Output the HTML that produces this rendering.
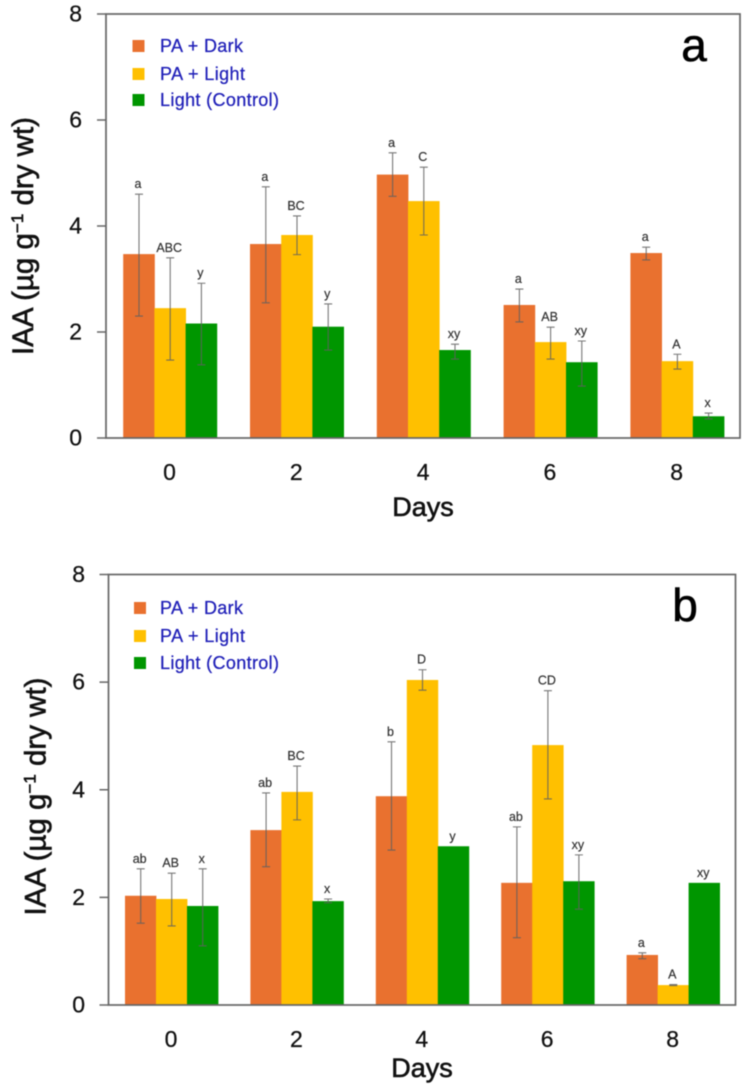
<!DOCTYPE html>
<html lang="en">
<head>
<meta charset="utf-8">
<title>IAA content over days</title>
<style>
html,body{margin:0;padding:0;background:#fff;width:750px;height:1088px;overflow:hidden}
svg{display:block;filter:blur(.45px)}
text{font-family:"Liberation Sans",sans-serif}
</style>
</head>
<body>
<svg id="figure" xmlns="http://www.w3.org/2000/svg" width="750" height="1088" viewBox="0 0 750 1088"></svg>
<script>
// Shared categories and ticks
const categories = ['0', '2', '4', '6', '8'];
const yTicks = [0, 2, 4, 6, 8];
const seriesNames = ['PA + Dark', 'PA + Light', 'Light (Control)'];

// Panel a values
const aDark = [3.47, 3.66, 4.97, 2.51, 3.49];
const aDarkUp = [1.13, 1.08, 0.41, 0.30, 0.11];
const aDarkDown = [1.17, 1.11, 0.41, 0.32, 0.13];
const aDarkLetters = ['a', 'a', 'a', 'a', 'a'];
const aLight = [2.45, 3.83, 4.47, 1.81, 1.45];
const aLightUp = [0.95, 0.36, 0.64, 0.28, 0.13];
const aLightDown = [0.98, 0.37, 0.64, 0.32, 0.15];
const aLightLetters = ['ABC', 'BC', 'C', 'AB', 'A'];
const aControl = [2.16, 2.10, 1.66, 1.43, 0.41];
const aControlUp = [0.76, 0.43, 0.11, 0.40, 0.06];
const aControlDown = [0.78, 0.44, 0.17, 0.45, 0.05];
const aControlLetters = ['y', 'y', 'xy', 'xy', 'x'];

// Panel b values
const bDark = [2.03, 3.25, 3.88, 2.27, 0.93];
const bDarkUp = [0.50, 0.69, 1.01, 1.04, 0.04];
const bDarkDown = [0.51, 0.68, 1.00, 1.02, 0.07];
const bDarkLetters = ['ab', 'ab', 'b', 'ab', 'a'];
const bLight = [1.97, 3.96, 6.04, 4.83, 0.37];
const bLightUp = [0.48, 0.48, 0.19, 1.01, 0.01];
const bLightDown = [0.50, 0.52, 0.19, 1.00, 0.01];
const bLightLetters = ['AB', 'BC', 'D', 'CD', 'A'];
const bControl = [1.84, 1.93, 2.95, 2.30, 2.27];
const bControlUp = [0.69, 0.04, 0, 0.49, 0];
const bControlDown = [0.74, 0.03, 0, 0.52, 0];
const bControlLetters = ['x', 'x', 'y', 'xy', 'xy'];

const NS = 'http://www.w3.org/2000/svg';
const svg = document.getElementById('figure');
const fills = ['#E9712F', '#FFC000', '#009600'];
const seriesKeys = ['pa-dark', 'pa-light', 'light-control'];

function make(tag, parent, attrs, content) {
  const el = document.createElementNS(NS, tag);
  for (const k in attrs) el.setAttribute(k, attrs[k]);
  if (content !== undefined) el.textContent = content;
  parent.appendChild(el);
  return el;
}

function drawPanel(p) {
  const g = make('g', svg, {});
  
  

  const y = v => p.bottom - (v / 8) * (p.bottom - p.top);
  const xCenter = i => p.x0 + p.step * i;
  const barW = p.barW;

  // Series marks
  p.series.forEach((s, si) => {
    s.values.forEach((v, i) => {
      const left = xCenter(i) + (si - 1.5) * barW;
      const bar = make('rect', g, {x: left, y: y(v), width: barW + 0.4, height: p.bottom - y(v), fill: fills[si]});
      
      
    });
  });
  p.series.forEach((s, si) => {
    s.values.forEach((v, i) => {
      const cx = xCenter(i) + (si - 1) * barW + 0.2;
      const hi = v + s.up[i];
      const lo = v - s.down[i];
      if (s.up[i] > 0 || s.down[i] > 0) {
        const err = make('path', g, {
          d: 'M' + (cx - 4) + ' ' + y(hi) + 'H' + (cx + 4) + 'M' + cx + ' ' + y(hi) + 'V' + y(lo) + 'M' + (cx - 4) + ' ' + y(lo) + 'H' + (cx + 4),
          fill: 'none', stroke: '#5f5f5f', 'stroke-width': 1.1, opacity: 0.85
        });
        
        
      }
      const lab = make('text', g, {
        x: cx - 1, y: y(hi) - 6, 'text-anchor': 'middle', 'font-size': 12.5, fill: '#333',
        stroke: '#333', 'stroke-width': 0.2
      }, s.letters[i]);
      
      
    });
  });

  // Plot frame and ticks
  const frame = make('rect', g, {x: p.left, y: p.top, width: p.right - p.left, height: p.bottom - p.top, fill: 'none', stroke: '#666', 'stroke-width': 1.7});
  
  

  yTicks.forEach(t => {
    const tick = make('line', g, {x1: p.left - 9, x2: p.left, y1: y(t), y2: y(t), stroke: '#666', 'stroke-width': 1.5});
    
    
    const tl = make('text', g, {x: p.tickLabelX, y: y(t) + 7.5, 'text-anchor': 'end', 'font-size': 23, fill: '#111', stroke: '#111', 'stroke-width': 0.25}, String(t));
    
    
  });

  categories.forEach((c, i) => {
    const tl = make('text', g, {x: xCenter(i) - 0.5, y: p.bottom + 42, 'text-anchor': 'middle', 'font-size': 23, fill: '#111', stroke: '#111', 'stroke-width': 0.25}, c);
    
    
  });

  // Axis titles
  const xTitle = make('text', g, {
    x: p.daysX, y: p.daysY, 'text-anchor': 'middle', 'font-size': 27, fill: '#111',
    stroke: '#111', 'stroke-width': 0.6
  }, 'Days');
  
  

  const yTitle = make('text', g, {
    transform: 'translate(' + p.titleX + ' ' + p.titleY + ') rotate(-90)',
    'text-anchor': 'middle', 'font-size': 29.5, fill: '#111', stroke: '#111', 'stroke-width': 0.6
  });
  
  
  yTitle.appendChild(document.createTextNode('IAA (\u00B5g g'));
  make('tspan', yTitle, {dy: -10, 'font-size': 17}, '\u22121');
  make('tspan', yTitle, {dy: 10}, ' dry wt)');

  // Legend
  seriesNames.forEach((name, i) => {
    const ly = p.legendY[i];
    const sw = make('rect', g, {x: p.legendX, y: ly - 6, width: 12, height: 12, fill: fills[i]});
    
    
    const lt = make('text', g, {
      x: 160, y: ly + 6, 'font-size': 18, fill: '#2020B8', stroke: '#2020B8', 'stroke-width': 0.25,
      textLength: [83, 85, 119][i]
    }, name);
    
    
  });

  // Panel letter
  const letter = make('text', g, {
    x: p.letterX, y: p.letterY, 'text-anchor': 'middle', 'font-size': 46, fill: '#000', stroke: '#000', 'stroke-width': 0.6
  }, p.id);
  
  
}

drawPanel({
  id: 'a', left: 106, right: 740, top: 14, bottom: 438, x0: 170, step: 126.8, barW: 31.2,
  tickLabelX: 82, daysX: 423, daysY: 516, titleX: 33, titleY: 236,
  legendX: 132.5, legendY: [46, 74, 100], letterX: 694, letterY: 61,
  series: [
    {values: aDark, up: aDarkUp, down: aDarkDown, letters: aDarkLetters},
    {values: aLight, up: aLightUp, down: aLightDown, letters: aLightLetters},
    {values: aControl, up: aControlUp, down: aControlDown, letters: aControlLetters}
  ]
});

drawPanel({
  id: 'b', left: 108.5, right: 735.5, top: 574.5, bottom: 1005, x0: 171.5, step: 125.4, barW: 31,
  tickLabelX: 85, daysX: 422, daysY: 1077, titleX: 45.5, titleY: 796.5,
  legendX: 134, legendY: [608, 636, 663], letterX: 685, letterY: 621,
  series: [
    {values: bDark, up: bDarkUp, down: bDarkDown, letters: bDarkLetters},
    {values: bLight, up: bLightUp, down: bLightDown, letters: bLightLetters},
    {values: bControl, up: bControlUp, down: bControlDown, letters: bControlLetters}
  ]
});
</script>
</body>
</html>
